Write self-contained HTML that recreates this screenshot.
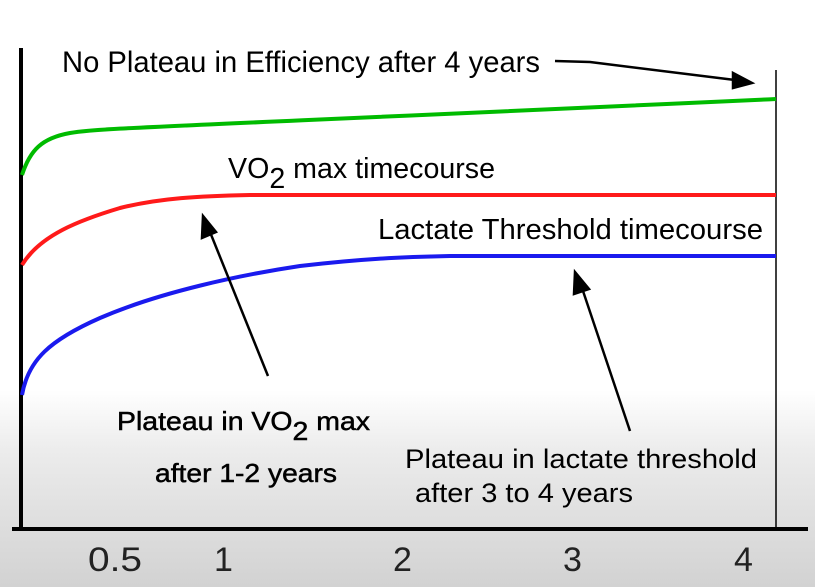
<!DOCTYPE html>
<html><head><style>
html,body{margin:0;padding:0;}
body{width:815px;height:587px;overflow:hidden;background:linear-gradient(to bottom,#fff 0px,#fff 390px,#ececec 450px,#d2d2d2 587px);}
svg{display:block;font-family:"Liberation Sans",Arial,sans-serif;}
</style></head><body>
<svg width="815" height="587" viewBox="0 0 815 587">
<line x1="21" y1="48" x2="21" y2="530" stroke="#000" stroke-width="4"/>
<line x1="12" y1="529" x2="808" y2="529" stroke="#000" stroke-width="4"/>
<line x1="776" y1="70" x2="776" y2="529" stroke="#000" stroke-width="1.5"/>
<path d="M22,175 C30,150 42,138 70,133 C100,128 120,129 776,99" fill="none" stroke="#00bb00" stroke-width="4"/>
<path d="M22,265 C40,235 80,220 120,208 C160,198 200,196 250,195 L776,195" fill="none" stroke="#ff1a1a" stroke-width="4"/>
<path d="M22,395 C28,360 50,340 100,318 C160,292 240,275 300,266 C360,259 400,257 450,256 L776,256" fill="none" stroke="#1a1aee" stroke-width="4"/>
<g stroke="#000" stroke-width="2.5" fill="#000">
<path d="M555,61 L590,62 L735,80" fill="none"/>
<polygon points="752,83 733,73 733,88"/>
<line x1="268" y1="376" x2="210" y2="232"/>
<polygon points="203,216 202,238 216,232"/>
<line x1="630" y1="431" x2="582" y2="288"/>
<polygon points="575,272 574,294 589,289"/>
</g>
<g fill="#000">
<text x="62" y="72" font-size="30" textLength="478" lengthAdjust="spacingAndGlyphs">No Plateau in Efficiency after 4 years</text>
<text x="228" y="178" font-size="29" textLength="267" lengthAdjust="spacingAndGlyphs">VO<tspan dy="10">2</tspan><tspan dy="-10"> max timecourse</tspan></text>
<text x="378" y="239" font-size="29" textLength="385" lengthAdjust="spacingAndGlyphs">Lactate Threshold timecourse</text>
<text x="117" y="430" font-size="26" font-weight="bold" textLength="253" lengthAdjust="spacingAndGlyphs" style="font-weight:normal;stroke:#000;stroke-width:0.5">Plateau in VO<tspan dy="10">2</tspan><tspan dy="-10"> max</tspan></text>
<text x="155" y="482" font-size="26" textLength="182" lengthAdjust="spacingAndGlyphs" style="stroke:#000;stroke-width:0.5">after  1-2 years</text>
<text x="405" y="468" font-size="27" textLength="352" lengthAdjust="spacingAndGlyphs">Plateau in lactate threshold</text>
<text x="415" y="502" font-size="27" textLength="218" lengthAdjust="spacingAndGlyphs">after 3 to 4 years</text>
<g font-size="34" fill="#222">
<text x="88" y="571" textLength="54" lengthAdjust="spacingAndGlyphs">0.5</text>
<text x="214" y="571">1</text>
<text x="393" y="571">2</text>
<text x="563" y="571">3</text>
<text x="734" y="571">4</text>
</g>
</g>
</svg>
</body></html>
